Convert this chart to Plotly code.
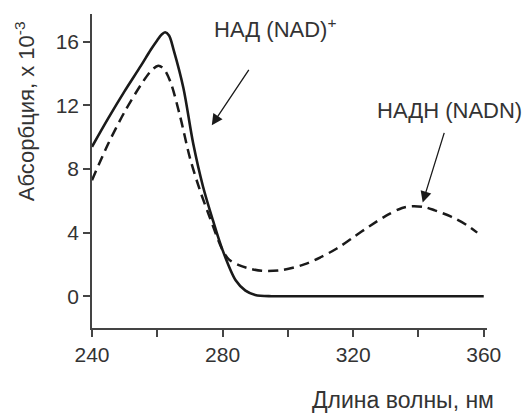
import plotly.graph_objects as go

# Wavelength (nm) and absorbance (x10^-3)
nad_wl = [240, 245, 250, 255, 258, 260, 261.3, 262.4, 263.6, 265, 268, 271, 274, 277, 280, 284, 287, 290, 295, 300, 320, 340, 360]
nad_abs = [9.4, 11.2, 12.9, 14.5, 15.5, 16.1, 16.45, 16.6, 16.4, 15.5, 13.1, 9.6, 6.9, 4.8, 2.9, 1.0, 0.35, 0.08, 0.0, 0.0, 0.0, 0.0, 0.0]

nadh_wl = [240, 245, 250, 255, 258, 260.3, 262, 264, 267, 270, 273, 276, 280, 282, 285, 288, 292, 298, 305, 310, 315, 320, 325, 330, 335, 338, 342, 345, 350, 355, 358]
nadh_abs = [7.3, 9.6, 11.6, 13.3, 14.15, 14.5, 14.3, 13.5, 11.3, 8.7, 6.7, 5.0, 2.9, 2.3, 1.95, 1.75, 1.6, 1.64, 2.0, 2.45, 3.0, 3.7, 4.4, 5.05, 5.55, 5.66, 5.6, 5.4, 5.0, 4.45, 4.0]

x_ticks = [240, 260, 280, 300, 320, 340, 360]
x_labels = ["240", "", "280", "", "320", "", "360"]
y_ticks = [0, 4, 8, 12, 16]

FONT = "Liberation Sans, Arial, sans-serif"
INK = "#1a1a1a"
TXT = "#333"

fig = go.Figure()
fig.add_trace(go.Scatter(x=nad_wl, y=nad_abs, mode="lines",
                         line=dict(color=INK, width=2.6, shape="spline", smoothing=0.9)))
fig.add_trace(go.Scatter(x=nadh_wl, y=nadh_abs, mode="lines",
                         line=dict(color=INK, width=2.5, dash="10px,6px", shape="spline", smoothing=0.9)))

axis_common = dict(ticks="outside", ticklen=7, tickwidth=1.5, tickcolor="#444",
                   showline=True, linecolor="#444", linewidth=1.5,
                   showgrid=False, zeroline=False, automargin=False,
                   tickfont=dict(size=21, color=TXT))

# page body adds an 8px margin, so the figure is 8px smaller than the window
fig.update_layout(
    width=522, height=406,
    margin=dict(l=84, r=43, t=6, b=86, autoexpand=False),
    paper_bgcolor="white", plot_bgcolor="white",
    showlegend=False,
    font=dict(family=FONT, size=21, color=TXT),
    xaxis=dict(range=[240, 361], tickvals=x_ticks, ticktext=x_labels, **axis_common),
    yaxis=dict(range=[-2, 17.75], tickvals=y_ticks, **axis_common),
)

annotations = [
    dict(x=0.787, y=-0.229, xref="paper", yref="paper", text="Длина волны, нм",
         showarrow=False, font=dict(size=23, color=TXT), xanchor="center", yanchor="middle"),
    dict(x=-0.17, y=0.69, xref="paper", yref="paper", text="Абсорбция, x 10<sup>-3</sup>",
         showarrow=False, textangle=-90, font=dict(size=22, color=TXT),
         xanchor="center", yanchor="middle"),
    dict(x=276.7, y=16.9, xref="x", yref="y", text="НАД (NAD)<sup>+</sup>",
         showarrow=False, font=dict(size=22, color=TXT), xanchor="left", yanchor="middle"),
    dict(x=326.6, y=11.7, xref="x", yref="y", text="НАДН (NADN)",
         showarrow=False, font=dict(size=22, color=TXT), xanchor="left", yanchor="middle"),
    dict(x=276.7, y=10.75, xref="x", yref="y", text="", showarrow=True,
         ax=38, ay=-57, arrowhead=2, arrowsize=1.7, arrowwidth=1.3, arrowcolor=INK),
    dict(x=341.3, y=5.9, xref="x", yref="y", text="", showarrow=True,
         ax=22, ay=-71, arrowhead=2, arrowsize=1.7, arrowwidth=1.3, arrowcolor=INK),
]
fig.update_layout(annotations=annotations)

fig.write_html("out.html")
